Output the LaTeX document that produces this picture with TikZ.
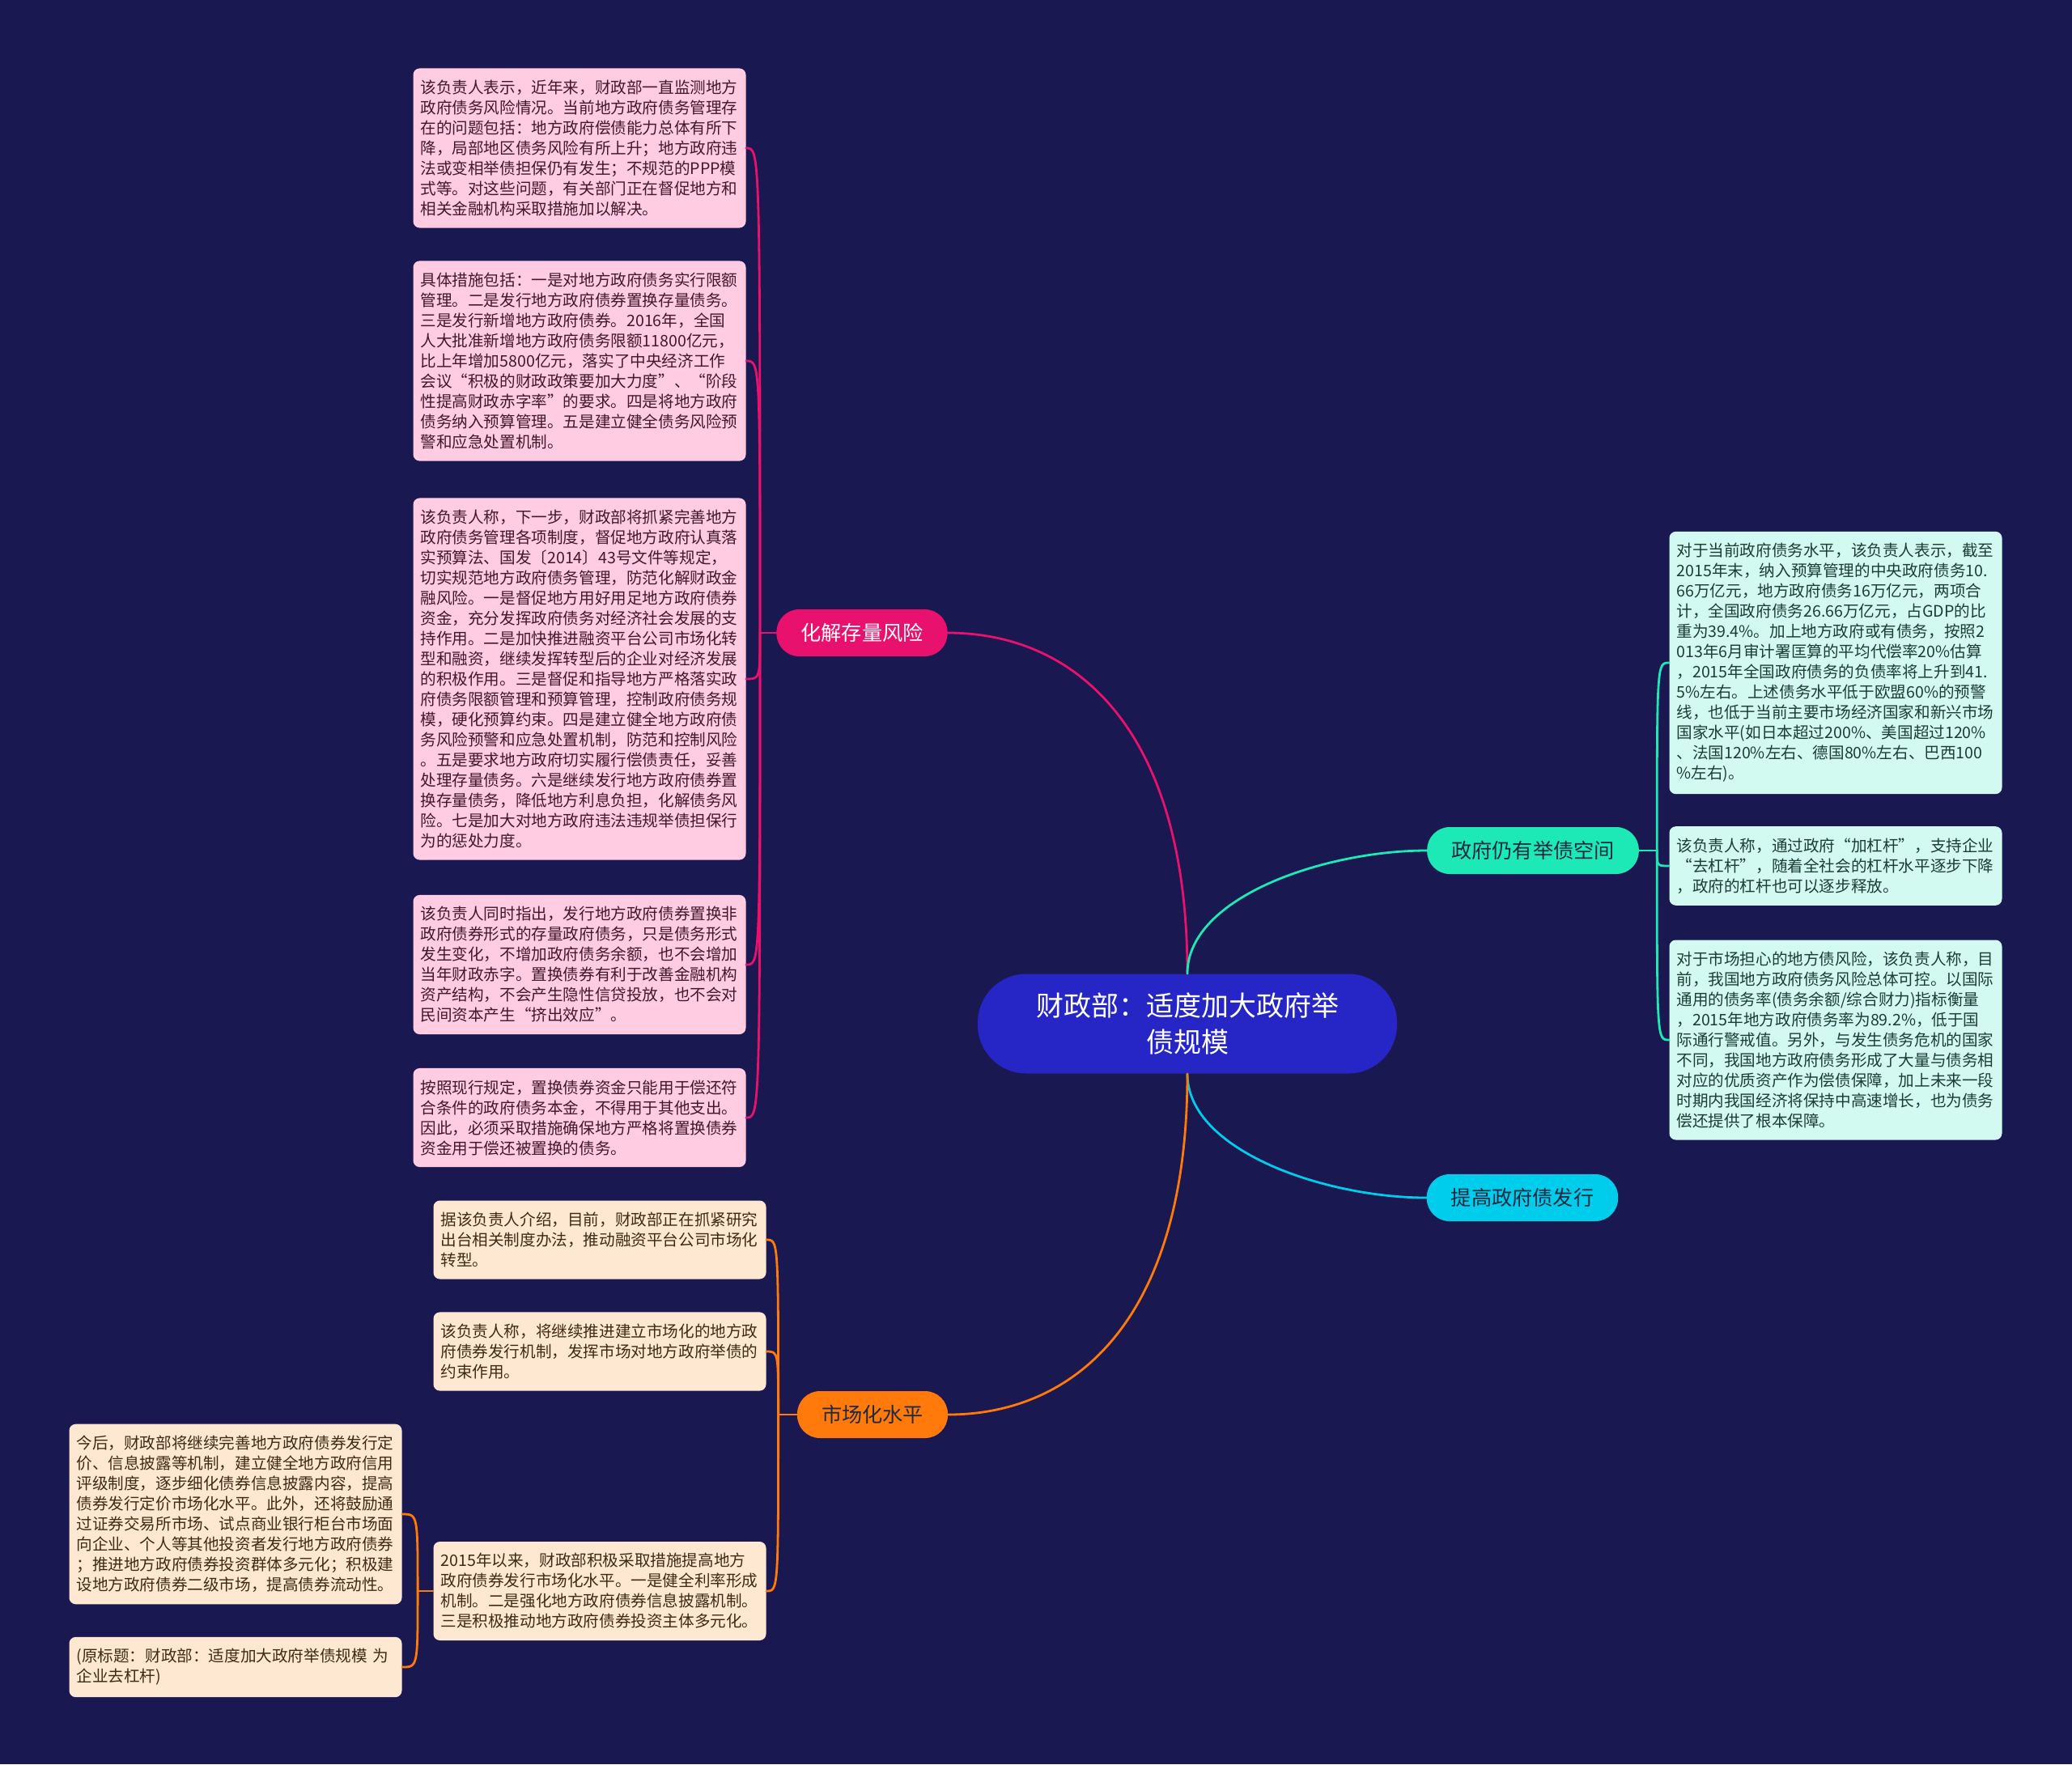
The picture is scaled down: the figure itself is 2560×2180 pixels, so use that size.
\documentclass[tikz,border=0pt]{standalone}
\usepackage{fontspec}
\setmainfont{Noto Sans CJK SC}
\definecolor{bgnavy}{HTML}{1A1850}
\definecolor{rootblue}{HTML}{2626C6}
\definecolor{riskpink}{HTML}{E8126E}
\definecolor{spaceteal}{HTML}{1DE9B6}
\definecolor{issuecyan}{HTML}{00CCEC}
\definecolor{marketorange}{HTML}{FF7A0A}
\definecolor{pinkfill}{HTML}{FFCCE1}
\definecolor{tealfill}{HTML}{D2FAF0}
\definecolor{peachfill}{HTML}{FFE8D2}
\definecolor{pinktext}{HTML}{42182E}
\definecolor{tealtext}{HTML}{1C3D36}
\definecolor{peachtext}{HTML}{3E2A16}
\definecolor{pilltext}{HTML}{1E2A40}
\begin{document}
\begin{tikzpicture}[
    x=0.5pt,y=-0.5pt,
    every node/.style={inner sep=0pt},
    rootnode/.style={fill=rootblue,text=white,rounded corners=30pt,minimum width=259pt,minimum height=61.5pt,align=center,font=\fontsize{17}{22.5}\selectfont},
    pill/.style={rounded corners=14pt,minimum height=29pt,inner xsep=15pt,font=\fontsize{12.6}{15}\selectfont},
    leaf/.style={rounded corners=4pt,text width=196.5pt,inner xsep=4.5pt,inner ysep=7.2pt,align=left,font=\fontsize{9.8}{12.5}\selectfont},
    pinkleaf/.style={leaf,fill=pinkfill,text=pinktext},
    tealleaf/.style={leaf,fill=tealfill,text=tealtext},
    peachleaf/.style={leaf,fill=peachfill,text=peachtext},
    link/.style={line width=1.4pt,line cap=round}
  ]
  % page
  \fill[bgnavy] (0,0) rectangle (2560,2180);
  % centre topic
  \node[rootnode] (root) at (1467,1265) {财政部：适度加大政府举\\债规模};
  % main branches
  \node[pill,fill=riskpink,text=white] (risk) at (1065,782) {化解存量风险};
  \node[pill,fill=spaceteal,text=pilltext] (space) at (1894,1051) {政府仍有举债空间};
  \node[pill,fill=issuecyan,text=pilltext] (issue) at (1881,1480) {提高政府债发行};
  \node[pill,fill=marketorange,text=pilltext] (market) at (1078,1748) {市场化水平};
  % risk leaves
  \node[pinkleaf] (r1) at (716,183) {该负责人表示，近年来，财政部一直监测地方\\
政府债务风险情况。当前地方政府债务管理存\\
在的问题包括：地方政府偿债能力总体有所下\\
降，局部地区债务风险有所上升；地方政府违\\
法或变相举债担保仍有发生；不规范的PPP模\\
式等。对这些问题，有关部门正在督促地方和\\
相关金融机构采取措施加以解决。};
  \node[pinkleaf] (r2) at (716,446) {具体措施包括：一是对地方政府债务实行限额\\
管理。二是发行地方政府债券置换存量债务。\\
三是发行新增地方政府债券。2016年，全国\\
人大批准新增地方政府债务限额11800亿元，\\
比上年增加5800亿元，落实了中央经济工作\\
会议“积极的财政政策要加大力度”、“阶段\\
性提高财政赤字率”的要求。四是将地方政府\\
债务纳入预算管理。五是建立健全债务风险预\\
警和应急处置机制。};
  \node[pinkleaf] (r3) at (716,839) {该负责人称，下一步，财政部将抓紧完善地方\\
政府债务管理各项制度，督促地方政府认真落\\
实预算法、国发〔2014〕43号文件等规定，\\
切实规范地方政府债务管理，防范化解财政金\\
融风险。一是督促地方用好用足地方政府债券\\
资金，充分发挥政府债务对经济社会发展的支\\
持作用。二是加快推进融资平台公司市场化转\\
型和融资，继续发挥转型后的企业对经济发展\\
的积极作用。三是督促和指导地方严格落实政\\
府债务限额管理和预算管理，控制政府债务规\\
模，硬化预算约束。四是建立健全地方政府债\\
务风险预警和应急处置机制，防范和控制风险\\
。五是要求地方政府切实履行偿债责任，妥善\\
处理存量债务。六是继续发行地方政府债券置\\
换存量债务，降低地方利息负担，化解债务风\\
险。七是加大对地方政府违法违规举债担保行\\
为的惩处力度。};
  \node[pinkleaf] (r4) at (716,1192) {该负责人同时指出，发行地方政府债券置换非\\
政府债券形式的存量政府债务，只是债务形式\\
发生变化，不增加政府债务余额，也不会增加\\
当年财政赤字。置换债券有利于改善金融机构\\
资产结构，不会产生隐性信贷投放，也不会对\\
民间资本产生“挤出效应”。};
  \node[pinkleaf] (r5) at (716,1381) {按照现行规定，置换债券资金只能用于偿还符\\
合条件的政府债务本金，不得用于其他支出。\\
因此，必须采取措施确保地方严格将置换债券\\
资金用于偿还被置换的债务。};
  % space leaves
  \node[tealleaf] (s1) at (2268,819) {对于当前政府债务水平，该负责人表示，截至\\
2015年末，纳入预算管理的中央政府债务10.\\
66万亿元，地方政府债务16万亿元，两项合\\
计，全国政府债务26.66万亿元，占GDP的比\\
重为39.4\%。加上地方政府或有债务，按照2\\
013年6月审计署匡算的平均代偿率20\%估算\\
，2015年全国政府债务的负债率将上升到41.\\
5\%左右。上述债务水平低于欧盟60\%的预警\\
线，也低于当前主要市场经济国家和新兴市场\\
国家水平(如日本超过200\%、美国超过120\%\\
、法国120\%左右、德国80\%左右、巴西100\\
\%左右)。};
  \node[tealleaf] (s2) at (2268,1070) {该负责人称，通过政府“加杠杆”，支持企业\\
“去杠杆”，随着全社会的杠杆水平逐步下降\\
，政府的杠杆也可以逐步释放。};
  \node[tealleaf] (s3) at (2268,1285) {对于市场担心的地方债风险，该负责人称，目\\
前，我国地方政府债务风险总体可控。以国际\\
通用的债务率(债务余额/综合财力)指标衡量\\
，2015年地方政府债务率为89.2\%，低于国\\
际通行警戒值。另外，与发生债务危机的国家\\
不同，我国地方政府债务形成了大量与债务相\\
对应的优质资产作为偿债保障，加上未来一段\\
时期内我国经济将保持中高速增长，也为债务\\
偿还提供了根本保障。};
  % market leaves
  \node[peachleaf] (m1) at (741,1532) {据该负责人介绍，目前，财政部正在抓紧研究\\
出台相关制度办法，推动融资平台公司市场化\\
转型。};
  \node[peachleaf] (m2) at (741,1670) {该负责人称，将继续推进建立市场化的地方政\\
府债券发行机制，发挥市场对地方政府举债的\\
约束作用。};
  \node[peachleaf] (m3) at (741,1966) {2015年以来，财政部积极采取措施提高地方\\
政府债券发行市场化水平。一是健全利率形成\\
机制。二是强化地方政府债券信息披露机制。\\
三是积极推动地方政府债券投资主体多元化。};
  \node[peachleaf] (m3a) at (291,1871) {今后，财政部将继续完善地方政府债券发行定\\
价、信息披露等机制，建立健全地方政府信用\\
评级制度，逐步细化债券信息披露内容，提高\\
债券发行定价市场化水平。此外，还将鼓励通\\
过证券交易所市场、试点商业银行柜台市场面\\
向企业、个人等其他投资者发行地方政府债券\\
；推进地方政府债券投资群体多元化；积极建\\
设地方政府债券二级市场，提高债券流动性。};
  \node[peachleaf] (m3b) at (291,2060) {(原标题：财政部：适度加大政府举债规模 为\\
企业去杠杆)};
  % centre to branches
  \draw[link,riskpink] (root.north) .. controls +(0,-300) and +(160,0) .. (risk.east);
  \draw[link,spaceteal] (root.north) .. controls +(0,-95) and +(-125,0) .. (space.west);
  \draw[link,issuecyan] (root.south) .. controls +(0,95) and +(-125,0) .. (issue.west);
  \draw[link,marketorange] (root.south) .. controls +(0,300) and +(160,0) .. (market.east);
  % branches to leaves
  \draw[link,riskpink] (risk.west) -- ++(-20,0) coordinate (riskj);
  \foreach \n in {r1,r2,r3,r4,r5}
    \draw[link,riskpink] (riskj) .. controls (riskj |- \n.east) .. (\n.east);
  \draw[link,spaceteal] (space.east) -- ++(22,0) coordinate (spacej);
  \foreach \n in {s1,s2,s3}
    \draw[link,spaceteal] (spacej) .. controls (spacej |- \n.west) .. (\n.west);
  \draw[link,marketorange] (market.west) -- ++(-23,0) coordinate (marketj);
  \foreach \n in {m1,m2,m3}
    \draw[link,marketorange] (marketj) .. controls (marketj |- \n.east) .. (\n.east);
  \draw[link,marketorange] (m3.west) -- ++(-19,0) coordinate (m3j);
  \foreach \n in {m3a,m3b}
    \draw[link,marketorange] (m3j) .. controls (m3j |- \n.east) .. (\n.east);
\end{tikzpicture}
\end{document}
